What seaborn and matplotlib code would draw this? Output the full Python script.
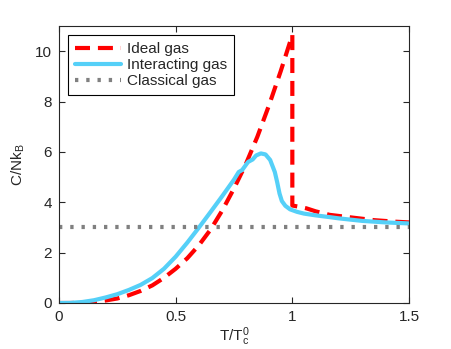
import matplotlib
matplotlib.use("Agg")
import matplotlib.pyplot as plt
import seaborn as sns
import pandas as pd

ideal_t = [0, 0.05, 0.1, 0.15, 0.2, 0.25, 0.3, 0.35, 0.4, 0.45, 0.5, 0.55, 0.6, 0.65, 0.7, 0.75,
           0.8, 0.85, 0.9, 0.95, 1.0, 1.0, 1.03, 1.06, 1.1, 1.16, 1.25, 1.35, 1.44, 1.5]
ideal_c = [0, 0.0, 0.01, 0.04, 0.1, 0.18, 0.31, 0.48, 0.7, 1.0, 1.36, 1.78, 2.3, 2.92, 3.68, 4.55,
           5.5, 6.6, 7.85, 9.2, 10.65, 3.87, 3.82, 3.76, 3.64, 3.5, 3.4, 3.29, 3.23, 3.2]

inter_t = [0, 0.05, 0.1, 0.15, 0.2, 0.25, 0.3, 0.35, 0.4, 0.45, 0.5, 0.55, 0.6, 0.65, 0.7, 0.75,
           0.77, 0.785, 0.81, 0.83, 0.845, 0.865, 0.885, 0.905, 0.925, 0.935, 0.945, 0.955, 0.97,
           0.99, 1.02, 1.05, 1.1, 1.16, 1.2, 1.3, 1.4, 1.5]
inter_c = [0, 0.005, 0.04, 0.11, 0.22, 0.35, 0.52, 0.72, 0.99, 1.36, 1.84, 2.4, 3.0, 3.62, 4.25, 4.9,
           5.2, 5.28, 5.6, 5.7, 5.86, 5.94, 5.9, 5.68, 5.2, 4.8, 4.35, 4.05, 3.86,
           3.72, 3.62, 3.55, 3.48, 3.41, 3.36, 3.26, 3.2, 3.16]

class_t = [0, 1.5]
class_c = [3, 3]

labels = ["Ideal gas", "Interacting gas", "Classical gas"]

sns.set_style("ticks")
plt.rcParams['font.family'] = ['Liberation Sans', 'DejaVu Sans']
plt.rcParams['mathtext.fontset'] = 'custom'
plt.rcParams['mathtext.rm'] = 'Liberation Sans'
plt.rcParams['mathtext.it'] = 'Liberation Sans'

FS = 11

fig = plt.figure(figsize=(4.52, 3.49), dpi=100)
ax = fig.add_axes([59/452, 1 - 303/349, 350/452, 277/349])

df_ideal = pd.DataFrame({"t": ideal_t, "c": ideal_c})
df_inter = pd.DataFrame({"t": inter_t, "c": inter_c})
df_class = pd.DataFrame({"t": class_t, "c": class_c})

sns.lineplot(data=df_ideal, x="t", y="c", ax=ax, color="#ff0000", lw=3, sort=False,
             label=labels[0], estimator=None)
ax.lines[-1].set_dashes([3.6, 1.9])
sns.lineplot(data=df_inter, x="t", y="c", ax=ax, color="#55d0f8", lw=3, sort=False,
             label=labels[1], estimator=None)
sns.lineplot(data=df_class, x="t", y="c", ax=ax, color="#808080", lw=3, sort=False,
             label=labels[2], estimator=None)
ax.lines[-1].set_dashes([0.8, 1.9])

ax.set_xlim(0, 1.5)
ax.set_ylim(0, 11)
ax.set_xticks([0, 0.5, 1, 1.5])
ax.set_xticklabels(["0", "0.5", "1", "1.5"])
ax.set_yticks([0, 2, 4, 6, 8, 10])
ax.tick_params(direction="in", top=True, right=True, labelsize=FS, length=4, width=0.8, pad=5)
for s in ax.spines.values():
    s.set_linewidth(0.8)
    s.set_visible(True)
ax.set_xlabel(r"T/T$_\mathrm{c}^0$", fontsize=FS, labelpad=1)
ax.set_ylabel(r"C/Nk$_\mathrm{B}$", fontsize=FS, labelpad=6)

leg = ax.legend(loc="upper left", bbox_to_anchor=(0.027, 0.9675), fontsize=FS, frameon=True,
                fancybox=False, edgecolor="black", framealpha=1, handlelength=3.0,
                handletextpad=0.35, borderpad=0.45, labelspacing=0.15, borderaxespad=0)
leg.get_frame().set_linewidth(0.8)

fig.savefig("out.png", dpi=100)
